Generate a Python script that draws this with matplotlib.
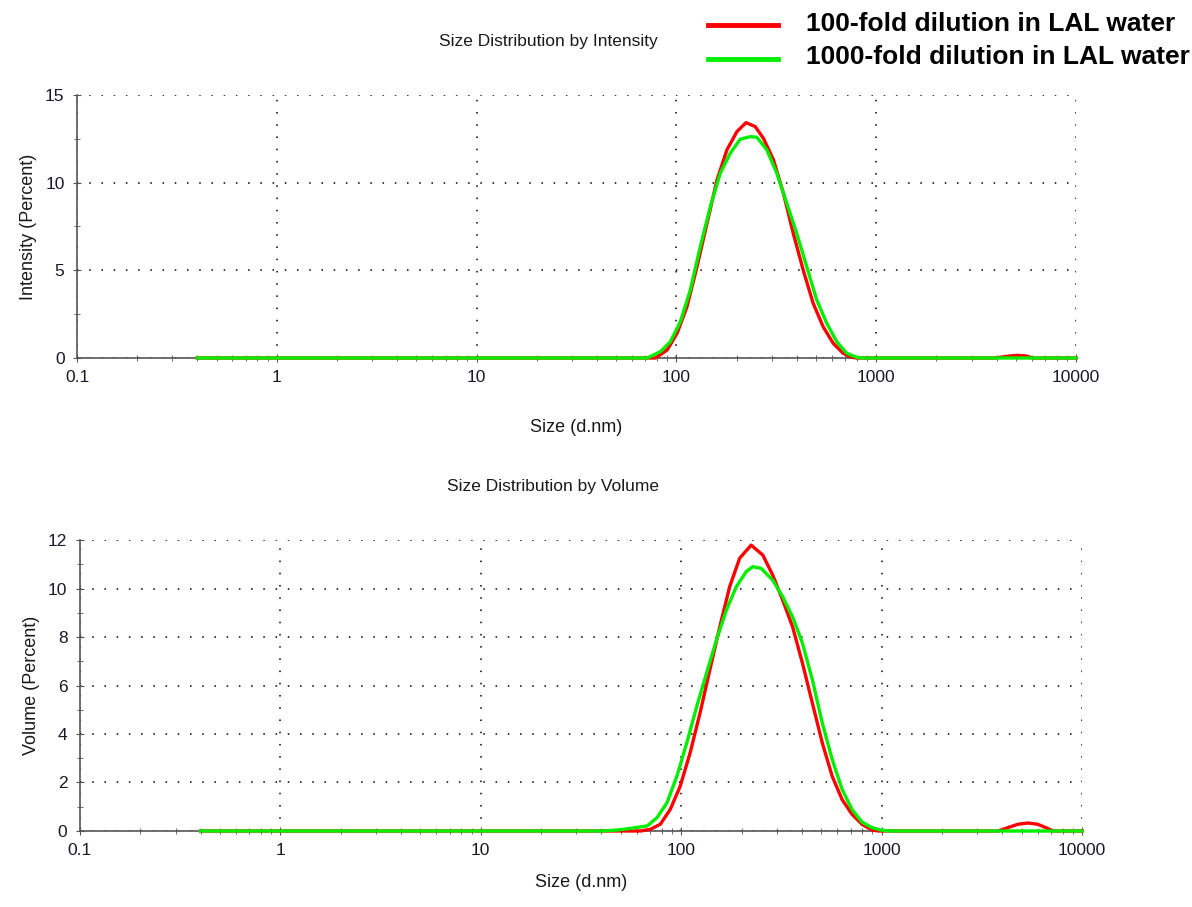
import matplotlib.pyplot as plt
from matplotlib.ticker import FixedLocator, NullFormatter, FuncFormatter

# Intensity distribution (size in d.nm, intensity in %)
int_size_100 = [0.4, 60, 78.6, 89.9, 100.8, 113, 126.8, 142.3, 159.6, 179, 200.8, 223,
                247.8, 272.5, 306, 343, 384.6, 431, 483.6, 542, 609, 683, 752, 800,
                3900, 4300, 4700, 5100, 5600, 6100, 10000]
int_val_100 = [0, 0, 0, 0.46, 1.41, 2.93, 5.21, 7.68, 10.15, 11.87, 12.91, 13.42,
               13.2, 12.53, 11.3, 9.4, 7.1, 5.02, 3.12, 1.79, 0.84, 0.27, 0.04, 0,
               0, 0.06, 0.12, 0.15, 0.12, 0, 0]
int_size_1000 = [0.4, 60, 71.4, 83.2, 93.3, 104.7, 117.4, 131.7, 147.8, 165.8, 186,
                 208.7, 234, 252.6, 283.4, 318, 356.8, 400, 449, 504, 565.6, 634.6,
                 712, 798, 850, 10000]
int_val_1000 = [0, 0, 0, 0.36, 0.93, 2.07, 3.88, 6.35, 8.63, 10.54, 11.68, 12.48,
                12.62, 12.59, 11.87, 10.54, 8.82, 7.11, 5.21, 3.31, 1.98, 0.93, 0.27,
                0.04, 0, 0]

# Volume distribution (size in d.nm, volume in %)
vol_size_100 = [0.4, 50, 62.7, 70.3, 78.7, 88.2, 98.9, 110.8, 124.2, 139.1, 155.9,
                174.7, 195.8, 223.5, 255.4, 286, 320.7, 359.4, 402.7, 451.3, 505.8,
                566.8, 635.1, 711.8, 797.6, 893.8, 966, 3820, 4200, 4800, 5380, 6000,
                6600, 7180, 10000]
vol_val_100 = [0, 0, 0, 0.07, 0.28, 0.89, 1.85, 3.22, 4.87, 6.65, 8.43, 10.08, 11.25,
               11.79, 11.38, 10.56, 9.53, 8.43, 6.93, 5.28, 3.64, 2.26, 1.30, 0.69,
               0.28, 0.04, 0, 0, 0.12, 0.28, 0.33, 0.28, 0.14, 0, 0]
vol_size_1000 = [0.4, 40, 48, 56, 67.7, 75.8, 85, 95.2, 106.7, 119.6, 134, 150.1,
                 168.2, 188.6, 211.2, 227.7, 250.6, 286, 320.7, 359.4, 402.7, 451.3,
                 505.8, 566.8, 635.1, 711.8, 797.6, 893.8, 1002, 1100, 10000]
vol_val_1000 = [0, 0, 0.04, 0.11, 0.21, 0.55, 1.17, 2.26, 3.64, 5.14, 6.52, 7.89,
                9.12, 10.08, 10.7, 10.9, 10.83, 10.35, 9.67, 8.84, 7.75, 6.24, 4.46,
                2.95, 1.72, 0.89, 0.37, 0.14, 0.03, 0, 0]

legend_labels = ['100-fold dilution in LAL water', '1000-fold dilution in LAL water']
red = '#ff0000'
green = '#00ee00'

plt.rcParams['font.family'] = ['Liberation Sans', 'DejaVu Sans']

fig = plt.figure(figsize=(11.92, 9.07), dpi=100)
ax1 = fig.add_axes([0.0646, 0.6053, 0.8381, 0.2900])
ax2 = fig.add_axes([0.0671, 0.0838, 0.8406, 0.3208])


def style_axis(ax, ymax, ymajor, yminor, ylabel, title, xpad):
    ax.set_xscale('log')
    ax.set_xlim(0.1, 10000)
    ax.set_ylim(0, ymax)
    ax.xaxis.set_major_locator(FixedLocator([0.1, 1, 10, 100, 1000, 10000]))
    ax.xaxis.set_major_formatter(FuncFormatter(lambda v, p: '%g' % v))
    ax.xaxis.set_minor_formatter(NullFormatter())
    ax.yaxis.set_major_locator(FixedLocator(ymajor))
    ax.yaxis.set_minor_locator(FixedLocator(yminor))
    for s in ['top', 'right']:
        ax.spines[s].set_visible(False)
    for s in ['left', 'bottom']:
        ax.spines[s].set_color('#555555')
        ax.spines[s].set_linewidth(1.2)
    ax.grid(True, which='major', color='black', linestyle=(0, (1, 7)), linewidth=1.1)
    ax.tick_params(which='major', direction='inout', length=6, labelsize=12.5,
                   color='#555555', labelcolor='#1a1a2a', pad=6)
    ax.tick_params(which='minor', direction='inout', length=4, color='#555555')
    ax.set_xlabel('Size (d.nm)', fontsize=13, labelpad=xpad, color='#1a1a1a')
    ax.set_ylabel(ylabel, fontsize=13, labelpad=6, color='#1a1a1a')
    ax.set_title(title, fontsize=12.5, pad=35, x=0.472, color='#1a1a1a')


style_axis(ax1, 15, [0, 5, 10, 15], [2.5, 7.5, 12.5], 'Intensity (Percent)',
           'Size Distribution by Intensity', 24)
style_axis(ax2, 12, [0, 2, 4, 6, 8, 10, 12], [1, 3, 5, 7, 9, 11], 'Volume (Percent)',
           'Size Distribution by Volume', 11)

ax1.plot(int_size_100, int_val_100, color=red, lw=2.4, clip_on=False, zorder=3)
ax1.plot(int_size_1000, int_val_1000, color=green, lw=2.4, clip_on=False, zorder=4)
ax2.plot(vol_size_100, vol_val_100, color=red, lw=2.4, clip_on=False, zorder=3)
ax2.plot(vol_size_1000, vol_val_1000, color=green, lw=2.4, clip_on=False, zorder=4)

# legend drawn at the top right of the figure
for i, (lab, col) in enumerate(zip(legend_labels, [red, green])):
    yy = 0.972 - i * 0.037
    fig.add_artist(plt.Line2D([0.594, 0.653], [yy, yy], color=col, lw=3.5,
                              transform=fig.transFigure))
    fig.text(0.676, yy + 0.002, lab, fontsize=19, fontweight='bold', va='center',
             ha='left')

fig.savefig('out.png', dpi=100)
